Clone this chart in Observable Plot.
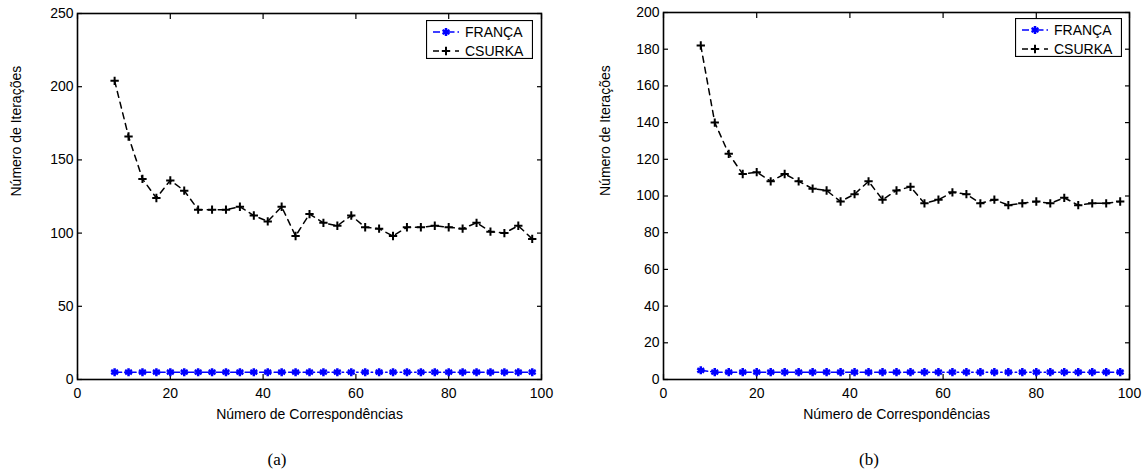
<!DOCTYPE html>
<html><head><meta charset="utf-8">
<script src="https://cdn.jsdelivr.net/npm/d3@7"></script>
<script src="https://cdn.jsdelivr.net/npm/@observablehq/plot@0.6"></script>
<style>
body{margin:0;background:#fff;}
#wrap{position:relative;width:1147px;height:472px;overflow:hidden;font-family:"Liberation Sans",Arial,sans-serif;}
.panel{position:absolute;top:0;}
.legend{position:absolute;}
.caption{position:absolute;font-family:"Liberation Serif","Times New Roman",serif;font-size:17px;line-height:20px;transform:translateX(-50%);}
</style></head>
<body>
<div id="wrap"></div>
<script>
const correspondencias = [8,11,14,17,20,23,26,29,32,35,38,41,44,47,50,53,56,59,62,65,68,71,74,77,80,83,86,89,92,95,98];
const francaA = [5,5,5,5,5,5,5,5,5,5,5,5,5,5,5,5,5,5,5,5,5,5,5,5,5,5,5,5,5,5,5];
const csurkaA = [204,166,137,124,136,129,116,116,116,118,112,108,118,98,113,107,105,112,104,103,98,104,104,105,104,103,107,101,100,105,96];
const francaB = [5,4,4,4,4,4,4,4,4,4,4,4,4,4,4,4,4,4,4,4,4,4,4,4,4,4,4,4,4,4,4];
const csurkaB = [182,140,123,112,113,108,112,108,104,103,97,101,108,98,103,105,96,98,102,101,96,98,95,96,97,96,99,95,96,96,97];
const xTicks = [0,20,40,60,80,100];
const yTicksA = [0,50,100,150,200,250];
const yTicksB = [0,20,40,60,80,100,120,140,160,180,200];
const seriesNames = ["FRANÇA","CSURKA"];
const xLabel = "Número de Correspondências";
const yLabel = "Número de Iterações";
const captions = ["(a)","(b)"];

const BLUE = "#0000ff";
const wrap = document.getElementById("wrap");

function panel({width, ml, mr, mt, yMax, yTicks, franca, csurka, ylabDx}) {
  const fr = correspondencias.map((x,i)=>({x, y: franca[i]}));
  const cs = correspondencias.map((x,i)=>({x, y: csurka[i]}));
  return Plot.plot({
    width, height: 430,
    marginLeft: ml, marginRight: mr, marginTop: mt, marginBottom: 51,
    style: {fontSize: "14px", fontFamily: "'Liberation Sans', Arial, sans-serif", color: "black", background: "white", overflow: "visible"},
    x: {domain: [0,100]},
    y: {domain: [0,yMax]},
    marks: [
      Plot.axisX(xTicks, {anchor: "bottom", tickSize: -5, fill: "none", label: null, strokeWidth: 1.2}),
      Plot.axisX(xTicks, {anchor: "top", tickSize: -5, fill: "none", label: null, strokeWidth: 1.2}),
      Plot.axisY(yTicks, {anchor: "left", tickSize: -5, fill: "none", label: null, strokeWidth: 1.2}),
      Plot.axisY(yTicks, {anchor: "right", tickSize: -5, fill: "none", label: null, strokeWidth: 1.2}),
      Plot.axisX(xTicks, {anchor: "bottom", tickSize: 0, tickPadding: 9, label: null}),
      Plot.axisY(yTicks, {anchor: "left", tickSize: 0, tickPadding: 4, label: null}),
      Plot.frame({stroke: "black", strokeWidth: 1.6}),
      Plot.line(fr, {x: "x", y: "y", stroke: BLUE, strokeWidth: 1.5, strokeDasharray: "7,3,1.5,3"}),
      Plot.dot(fr, {x: "x", y: "y", symbol: "asterisk", r: 3.8, stroke: BLUE, strokeWidth: 2.5}),
      Plot.line(cs, {x: "x", y: "y", stroke: "black", strokeWidth: 1.5, strokeDasharray: "6,5"}),
      Plot.dot(cs, {x: "x", y: "y", symbol: "plus", r: 2.8, stroke: "black", strokeWidth: 2}),
      Plot.text([yLabel], {text: d=>d, frameAnchor: "left", dx: ylabDx, rotate: -90}),
      Plot.text([xLabel], {text: d=>d, frameAnchor: "bottom", dy: 39})
    ]
  });
}

function legend(left, top) {
  const div = document.createElement("div");
  div.className = "legend";
  div.style.left = left + "px"; div.style.top = top + "px";
  const w = 107, h = 39;
  const svg = d3.create("svg").attr("width", w).attr("height", h)
    .style("font-family", "'Liberation Sans', Arial, sans-serif").style("font-size", "14px");
  svg.append("rect").attr("x",0.5).attr("y",0.5).attr("width",w-1).attr("height",h-1).attr("fill","white").attr("stroke","black").attr("stroke-width",1.2);
  const rows = [
    {name: seriesNames[0], y: 12, stroke: BLUE, dash: "7,3,1.5,3", sym: d3.symbolAsterisk, size: 45, sw: 2.5},
    {name: seriesNames[1], y: 31, stroke: "black", dash: "6,5", sym: d3.symbolPlus, size: 25, sw: 2}
  ];
  for (const r of rows) {
    svg.append("line").attr("x1", 7).attr("x2", 33).attr("y1", r.y).attr("y2", r.y)
      .attr("stroke", r.stroke).attr("stroke-width", 1.5).attr("stroke-dasharray", r.dash);
    svg.append("path").attr("d", d3.symbol(r.sym, r.size)()).attr("transform", `translate(20,${r.y})`)
      .attr("fill", "none").attr("stroke", r.stroke).attr("stroke-width", r.sw);
    svg.append("text").attr("x", 39).attr("y", r.y).attr("dy", "0.35em").text(r.name);
  }
  div.appendChild(svg.node());
  return div;
}

const pA = panel({width: 573, ml: 77, mr: 32, mt: 13, yMax: 250, yTicks: yTicksA, franca: francaA, csurka: csurkaA, ylabDx: -61});
pA.classList.add("panel"); pA.style.left = "0px";
wrap.appendChild(pA);

const pB = panel({width: 574, ml: 90, mr: 18, mt: 12, yMax: 200, yTicks: yTicksB, franca: francaB, csurka: csurkaB, ylabDx: -58});
pB.classList.add("panel"); pB.style.left = "573px";
wrap.appendChild(pB);

wrap.appendChild(legend(426, 20));
wrap.appendChild(legend(1015, 18));

[[captions[0], 277], [captions[1], 869]].forEach(([t, cx]) => {
  const d = document.createElement("div");
  d.className = "caption"; d.textContent = t;
  d.style.left = cx + "px"; d.style.top = "450px";
  wrap.appendChild(d);
});
</script>
</body></html>
